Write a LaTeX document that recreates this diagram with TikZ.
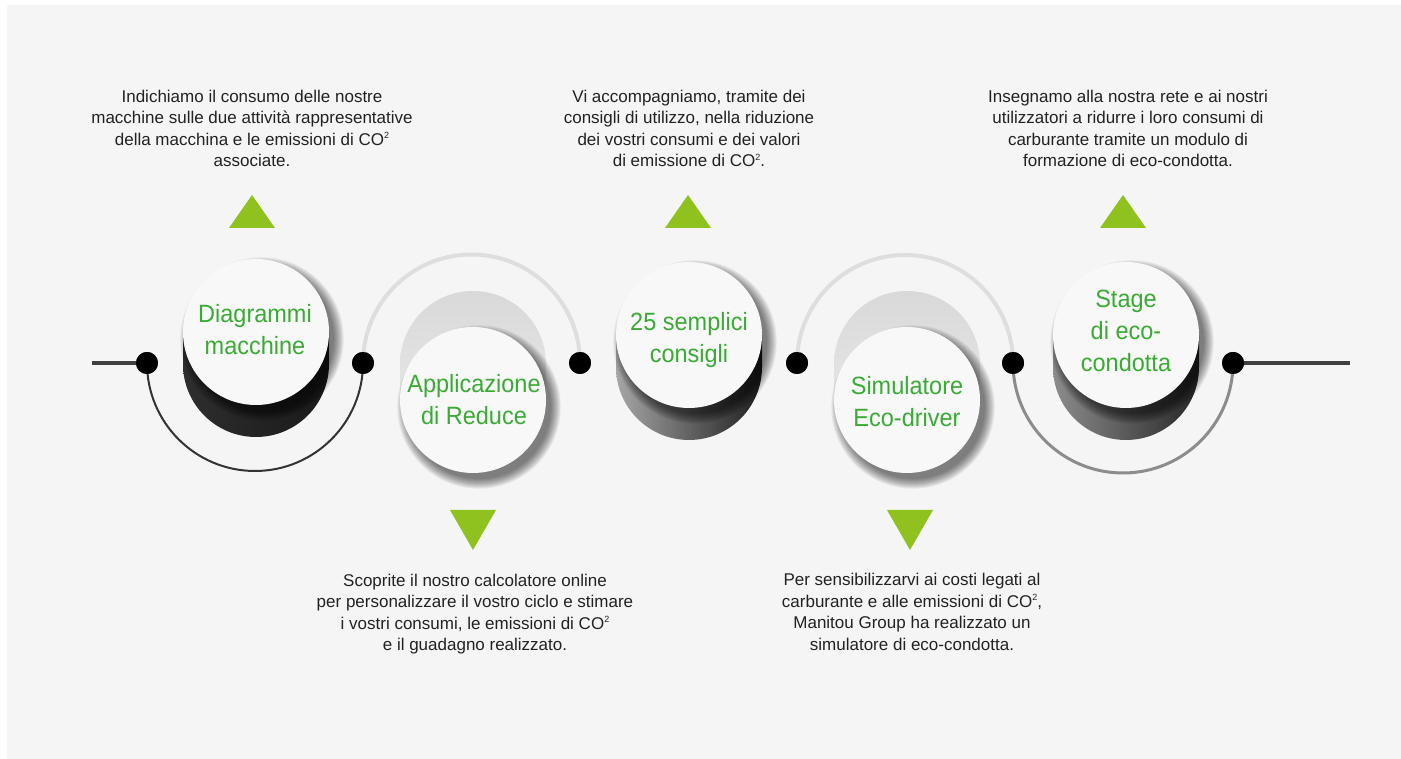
\documentclass[tikz,border=0pt]{standalone}
\usepackage{fontspec}
\setmainfont{Liberation Sans}
\newfontfamily\titlefont{Liberation Sans}[FakeStretch=0.94]
\definecolor{bg}{HTML}{F5F5F5}
\definecolor{bubblefill}{HTML}{F8F8F8}
\definecolor{titlegreen}{HTML}{3AAA35}
\definecolor{trigreen}{HTML}{8FC21F}
\definecolor{bodytext}{HTML}{222222}
\definecolor{mainline}{HTML}{404040}
\definecolor{arcdark}{HTML}{333333}
\definecolor{arclight}{HTML}{DEDEDE}
\definecolor{arcmid}{HTML}{8C8C8C}
\newcommand\cosup{\raisebox{0.75ex}{\fontsize{9}{9}\selectfont 2}}
\newcommand\softshadow[3]{%
  \foreach \k in {1,...,12}{\fill[black,opacity=0.05] (#1+6,#2-7) circle[radius=#3-2+\k*0.9];}}
\begin{document}
\begin{tikzpicture}[x=1pt,y=1pt,
  bubble/.style={circle, fill=bubblefill, minimum size=146pt, inner sep=0pt},
  dot/.style={circle, fill=black, minimum size=22pt, inner sep=0pt},
  title/.style={text=titlegreen, font=\titlefont\fontsize{25}{32}\selectfont, align=center, inner sep=0pt},
  body/.style={text=bodytext, font=\fontsize{17}{21.5}\selectfont, align=center, inner sep=0pt},
  tri/.style={fill=trigreen}]
\fill[white] (0,0) rectangle (1401,759);
\fill[bg] (7,0) rectangle (1401,754);
\useasboundingbox (0,0) rectangle (1401,759);

% dots
\node[dot] (d1) at (147,396) {};
\node[dot] (d2) at (363,396) {};
\node[dot] (d3) at (580,396) {};
\node[dot] (d4) at (797,396) {};
\node[dot] (d5) at (1013,396) {};
\node[dot] (d6) at (1233,396) {};
\coordinate (lstart) at (92,396);
\coordinate (lend) at (1350,396);

% lines and arcs
\draw[mainline, line width=4pt] (lstart) -- (d1.center);
\draw[mainline, line width=4pt] (d6.center) -- (lend);
\draw[arcdark, line width=2pt] (d1.center) arc[start angle=180, end angle=360, radius=108];
\draw[arclight, line width=4pt] (d2.center) arc[start angle=180, end angle=0, radius=108.5];
\draw[arclight, line width=4pt] (d4.center) arc[start angle=180, end angle=0, radius=108];
\draw[arcmid, line width=3pt] (d5.center) arc[start angle=180, end angle=360, radius=110];
\foreach \d in {d1,d2,d3,d4,d5,d6} \fill[black] (\d) circle[radius=11];

% extrusions
\shade[left color=black!82, middle color=black!72, right color=black!90]
  (183,427) -- (183,395) arc[start angle=180, end angle=360, radius=73] -- (329,427) -- cycle;
\shade[top color=black!15, bottom color=black!10]
  (400,359) -- (400,395) arc[start angle=180, end angle=0, radius=73] -- (546,359) -- cycle;
\shade[left color=black!35, right color=black!88]
  (616,424) -- (616,392) arc[start angle=180, end angle=360, radius=73] -- (762,424) -- cycle;
\shade[top color=black!15, bottom color=black!10]
  (834,359) -- (834,395) arc[start angle=180, end angle=0, radius=73] -- (980,359) -- cycle;
\shade[left color=black!45, right color=black!85]
  (1053,424) -- (1053,392) arc[start angle=180, end angle=360, radius=73] -- (1199,424) -- cycle;

% soft shadows
\softshadow{256}{427}{73}
\softshadow{473}{359}{73}
\softshadow{689}{424}{73}
\softshadow{907}{359}{73}
\softshadow{1126}{424}{73}

% bubbles
\node[bubble] (c1) at (256,427) {};
\node[bubble] (c2) at (473,359) {};
\node[bubble] (c3) at (689,424) {};
\node[bubble] (c4) at (907,359) {};
\node[bubble] (c5) at (1126,424) {};

\node[title] (t1) at (255,429) {Diagrammi\\macchine};
\node[title] (t2) at (474,359.5) {Applicazione\\di Reduce};
\node[title] (t3) at (689,418.5) {25 semplici\\consigli};
\node[title] (t4) at (907,357) {Simulatore\\Eco-driver};
\node[title] (t5) at (1126,428) {Stage\\di eco-\\condotta};

% triangles
\fill[tri] (229,531) -- (275,531) -- (252,564) -- cycle;
\fill[tri] (665,531) -- (711,531) -- (688,564) -- cycle;
\fill[tri] (1100,531) -- (1146,531) -- (1123,564) -- cycle;
\fill[tri] (450,249) -- (496,249) -- (473,209) -- cycle;
\fill[tri] (887,249) -- (933,249) -- (910,209) -- cycle;

% texts
\node[body] (n1) at (252,630.5) {Indichiamo il consumo delle nostre\\macchine sulle due attività rappresentative\\della macchina e le emissioni di CO\cosup\\associate.};
\node[body] (n3) at (689,630.5) {Vi accompagniamo, tramite dei\\consigli di utilizzo, nella riduzione\\dei vostri consumi e dei valori\\di emissione di CO\cosup.};
\node[body] (n5) at (1128,630.5) {Insegnamo alla nostra rete e ai nostri\\utilizzatori a ridurre i loro consumi di\\carburante tramite un modulo di\\formazione di eco-condotta.};
\node[body] (n2) at (475,145) {Scoprite il nostro calcolatore online\\per personalizzare il vostro ciclo e stimare\\i vostri consumi, le emissioni di CO\cosup\\e il guadagno realizzato.};
\node[body] (n4) at (912,147) {Per sensibilizzarvi ai costi legati al\\carburante e alle emissioni di CO\cosup,\\Manitou Group ha realizzato un\\simulatore di eco-condotta.};
\end{tikzpicture}
\end{document}
